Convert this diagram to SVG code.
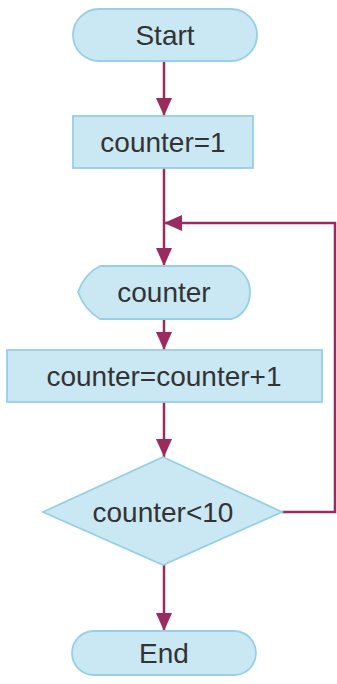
<svg xmlns="http://www.w3.org/2000/svg" width="337" height="684" viewBox="0 0 337 684">
<defs>
<style>
.node{fill:#c9e8f3;stroke:#97cfe4;stroke-width:1.8}
.lbl{font-family:"Liberation Sans",Arial,sans-serif;font-size:28px;fill:#333333;text-anchor:middle}
.edge{fill:none;stroke:#9b2b5e;stroke-width:2.5}
</style>
<marker id="ah" viewBox="0 0 18 16" refX="18" refY="8" markerWidth="18" markerHeight="16" markerUnits="userSpaceOnUse" orient="auto">
<path d="M0,0 L18,8 L0,16 Z" fill="#9b2b5e"/>
</marker>
</defs>
<rect width="337" height="684" fill="#ffffff"/>
<g id="connectors">
<line class="edge" x1="164" y1="61" x2="164" y2="116" marker-end="url(#ah)"/>
<line class="edge" x1="164" y1="168" x2="164" y2="266" marker-end="url(#ah)"/>
<polyline class="edge" points="282,512 335,512 335,223 164,223" marker-end="url(#ah)"/>
<line class="edge" x1="164" y1="319" x2="164" y2="350" marker-end="url(#ah)"/>
<line class="edge" x1="164" y1="402" x2="164" y2="457" marker-end="url(#ah)"/>
<line class="edge" x1="164" y1="565" x2="164" y2="631" marker-end="url(#ah)"/>
</g>
<g id="start">
<rect class="node" x="73" y="9" width="184" height="52" rx="26"/>
<text class="lbl" x="165" y="45">Start</text>
</g>
<g id="init">
<rect class="node" x="73" y="116" width="180" height="52"/>
<text class="lbl" x="163" y="152">counter=1</text>
</g>
<g id="display">
<path class="node" d="M100,266 L232,266 C244,270 250,281 250,292 C250,304 244,315 232,319 L100,319 C90,313 82,303 78,292 C82,281 90,271 100,266 Z"/>
<text class="lbl" x="164" y="302">counter</text>
</g>
<g id="increment">
<rect class="node" x="7" y="350" width="315" height="52"/>
<text class="lbl" x="164" y="386">counter=counter+1</text>
</g>
<g id="decision">
<polygon class="node" points="163,457 282,512 163,565 43,512"/>
<text class="lbl" x="163" y="522">counter&lt;10</text>
</g>
<g id="end">
<rect class="node" x="72" y="631" width="184" height="44" rx="22"/>
<text class="lbl" x="164" y="663">End</text>
</g>
</svg>
